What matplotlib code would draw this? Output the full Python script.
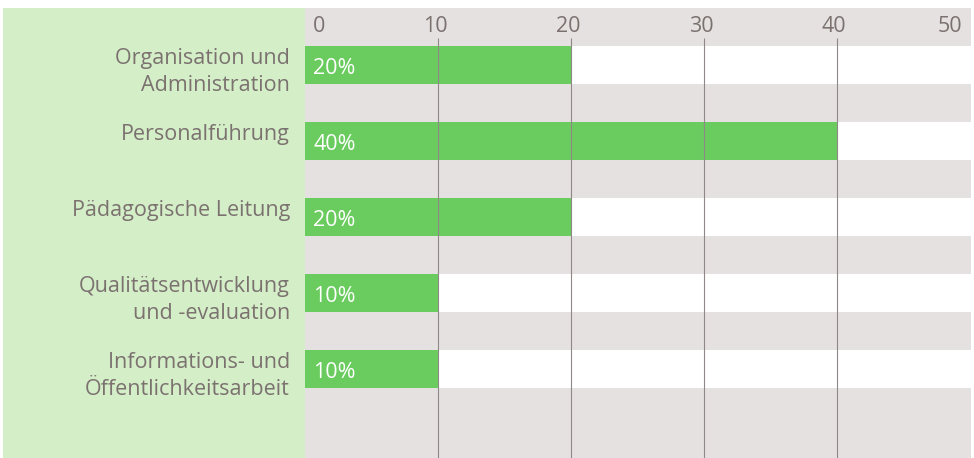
import matplotlib
matplotlib.use("Agg")
import matplotlib.pyplot as plt
from matplotlib.patches import Rectangle
from matplotlib.transforms import offset_copy

categories = ["Organisation und\nAdministration", "Personalführung", "Pädagogische Leitung",
              "Qualitätsentwicklung\nund -evaluation", "Informations- und\nÖffentlichkeitsarbeit"]
values = [20, 40, 20, 10, 10]
bar_labels = ["20%", "40%", "20%", "10%", "10%"]
ticks = [0, 10, 20, 30, 40, 50]
tick_labels = ["0", "10", "20", "30", "40", "50"]

W, H = 974, 458
DPI = 100
plt.rcParams['font.family'] = ['Open Sans', 'DejaVu Sans']
fig = plt.figure(figsize=(W / DPI, H / DPI), dpi=DPI)
fig.patch.set_facecolor("white")

TXT = "#7b7270"
GREY = "#e5e1e0"
PANEL = "#d4eec8"
BAR = "#6acc5e"
LINE = "#8f8886"
FS = 15.5

# left green panel
fig.patches.append(Rectangle((3 / W, 0), (305 - 3) / W, (H - 8) / H,
                             transform=fig.transFigure, facecolor=PANEL, edgecolor="none", zorder=-5))

ax = fig.add_axes([305 / W, 0, (971 - 305) / W, (H - 8) / H])
ax.set_zorder(2)
ax.set_facecolor(GREY)
band = 38.0
ybottom = (H - 8) / band
ax.set_xlim(0, 50 * (971 - 305) / 665)
ax.set_ylim(ybottom, 0)
for s in ax.spines.values():
    s.set_visible(False)
ax.set_xticks([])
ax.set_yticks([])

tops = [1 + 2 * i for i in range(len(values))]
for t in tops:
    ax.axhspan(t, t + 1, color="white", zorder=1, lw=0)
ax.barh([t + 0.5 for t in tops], values, height=1.0, left=0, color=BAR, zorder=2, lw=0)

# gridlines
for x in ticks[1:-1]:
    ax.vlines(x, (38 - 8) / band, ybottom, color=LINE, lw=0.8, zorder=3)

# tick labels
for x, lab in zip(ticks, tick_labels):
    if x == ticks[0]:
        tr = offset_copy(ax.transData, fig=fig, x=8, y=0, units='dots')
        ha = 'left'
    elif x == ticks[-1]:
        tr = offset_copy(ax.transData, fig=fig, x=-8, y=0, units='dots')
        ha = 'right'
    else:
        tr = offset_copy(ax.transData, fig=fig, x=-3, y=0, units='dots')
        ha = 'center'
    ax.text(x, (32 - 8) / band, lab, transform=tr, ha=ha, va='baseline',
            fontsize=FS, color=TXT, clip_on=False)

# bar value labels
trv = offset_copy(ax.transData, fig=fig, x=8, y=0, units='dots')
for t, lab in zip(tops, bar_labels):
    ax.text(0, t + 28 / band, lab, transform=trv, ha='left', va='baseline',
            fontsize=FS, color="white", zorder=4)

# category labels
trc = offset_copy(ax.transData, fig=fig, x=-15, y=0, units='dots')
for t, lab in zip(tops, categories):
    ax.text(0, t + 2 / band, lab, transform=trc, ha='right', va='top',
            fontsize=FS, color=TXT, linespacing=1.36, clip_on=False, multialignment='right',
            zorder=5)

fig.savefig("out.png", dpi=DPI, facecolor="white")
